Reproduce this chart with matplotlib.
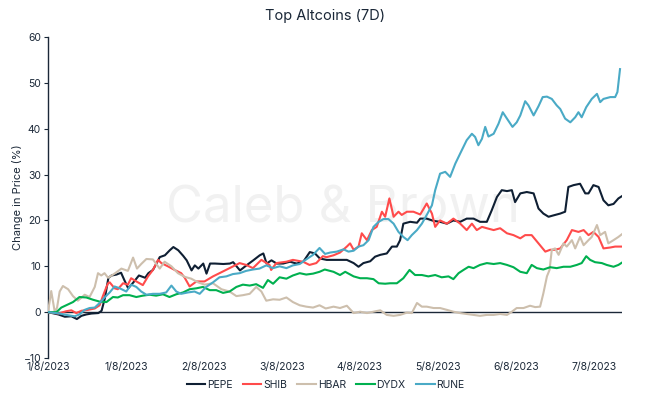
import matplotlib
matplotlib.use("Agg")
import matplotlib.pyplot as plt

# hours since start / % change
pepe_h = [0, 3.2, 5.2, 7.2, 8.9, 10.3, 11.8, 13.4, 15.5, 16.5, 17.5, 18.6, 19.6, 21.1, 22.5, 23.5,
          24.7, 26.3, 28.0, 29.9, 30.9, 32.3, 33.4, 34.4, 36.0, 37.5, 38.6, 40.1, 41.6, 42.7, 44.2,
          45.2, 46.3, 47.8, 48.8, 49.9, 51.4, 54.0, 56.0, 57.0, 59.1, 61.1, 63.2, 65.2, 66.3, 67.3,
          68.8, 70.4, 72.4, 74.5, 76.5, 78.6, 80.6, 82.2, 83.7, 85.8, 87.9, 89.9, 92.0, 94.1, 95.6,
          97.1, 99.2, 100.7, 102.3, 104.3, 105.9, 107.4, 108.4, 109.4, 111.5, 113.6, 114.6, 116.6,
          118.7, 120.7, 122.8, 124.8, 126.9, 128.9, 131.0, 133.0, 135.1, 136.6, 138.2, 139.7, 141.3,
          142.8, 143.8, 145.4, 147.4, 149.5, 151.0, 152.5, 154.1, 155.6, 157.7, 159.2, 160.2, 161.8,
          163.8, 165.4, 166.4, 167.9, 169.5, 171.0, 172.5, 174.1, 175.6, 176.7]
pepe_v = [0, -0.5, -1.0, -0.9, -1.5, -0.8, -0.5, -0.3, -0.2, 0.3, 3.0, 7.5, 8.0, 8.2, 8.6, 7.0,
          5.2, 6.5, 8.0, 7.5, 8.5, 9.2, 10.6, 12.0, 12.4, 13.5, 14.2, 13.5, 12.3, 11.3, 9.1,
          10.2, 9.5, 10.6, 8.4, 10.6, 10.6, 10.5, 10.6, 10.9, 9.1, 10.2, 11.3, 12.4, 12.8, 10.6,
          11.3, 10.6, 10.6, 11.0, 10.6, 11.0, 13.1, 12.8, 11.7, 11.4, 11.4, 11.4, 11.4, 10.7, 9.9,
          10.7, 11.1, 12.1, 12.5, 12.8, 14.3, 14.3, 15.7, 19.3, 19.7, 19.5, 20.4, 20.4,
          19.9, 19.7, 19.3, 20.0, 19.7, 20.4, 20.4, 19.7, 19.7, 22.2, 25.1, 26.6, 26.4,
          26.6, 24.0, 25.9, 26.2, 25.9, 22.6, 21.5, 20.8, 21.1, 21.5, 21.9, 27.3, 27.7,
          28.0, 25.9, 25.9, 27.7, 27.3, 24.4, 23.3, 23.6, 24.8, 25.3]

shib_h = [0, 3.2, 5.6, 7.2, 8.7, 10.3, 12.3, 14.4, 15.9, 16.9, 18.0, 18.5, 19.0, 20.5, 21.5, 23.1,
          24.6, 25.6, 27.2, 29.2, 30.8, 32.3, 33.9, 34.9, 36.9, 39.0, 41.0, 42.1, 43.6, 45.7, 48.2,
          50.8, 52.8, 55.9, 59.0, 61.0, 63.1, 65.7, 68.2, 68.7, 70.3, 73.4, 75.4, 78.5, 80.5, 82.6,
          84.6, 85.8, 87.9, 89.9, 92.0, 93.0, 94.1, 95.6, 96.6, 98.2, 99.7, 101.2, 102.8, 103.8,
          105.1, 106.4, 107.9, 108.9, 110.5, 112.5, 114.6, 116.6, 118.2, 119.2, 120.7, 122.8, 124.8,
          126.9, 128.9, 130.5, 132.0, 133.6, 135.1, 137.2, 139.2, 141.3, 143.3, 145.4, 146.9, 148.9,
          151.0, 153.1, 154.6, 156.1, 157.7, 159.7, 161.3, 163.3, 164.9, 166.4, 167.9, 169.5, 171.0,
          173.1, 174.6, 176.7]
shib_v = [0, -0.3, 0.2, 0.4, -0.2, 0.3, 0.5, 0.8, 1.5, 3.5, 5.5, 6.3, 6.5, 5.2, 5.0, 6.3,
          6.0, 7.4, 6.7, 5.9, 7.8, 9.2, 11.4, 10.7, 10.0, 9.2, 8.5, 7.5, 5.6, 6.7, 6.7,
          7.8, 8.5, 9.6, 10.7, 10.3, 9.6, 11.4, 10.3, 9.2, 10.7, 11.0, 11.4, 11.0, 10.3, 10.7,
          12.2, 12.0, 12.4, 13.0, 14.3, 15.0, 13.6, 14.3, 17.2, 15.7, 17.9, 18.6, 21.9, 20.8,
          24.8, 20.8, 21.9, 21.2, 21.9, 21.9, 21.3, 23.7, 21.5, 18.6, 20.0, 19.3, 20.4,
          19.3, 17.9, 19.3, 17.9, 18.6, 18.3, 17.9, 18.3, 17.2, 16.8, 16.1, 16.8, 16.8,
          15.0, 13.2, 13.6, 13.6, 13.9, 15.7, 17.9, 17.5, 17.9, 16.8, 17.5, 16.4, 13.9,
          14.1, 14.3, 14.3]

hbar_h = [0, 1.0, 2.1, 2.8, 3.6, 4.6, 6.2, 7.7, 9.2, 11.3, 12.8, 14.4, 15.4, 16.4, 17.4, 18.5,
          20.5, 22.6, 24.6, 26.2, 27.4, 28.7, 30.3, 32.3, 34.4, 35.9, 38.0, 40.0, 42.1, 44.1, 46.2,
          48.2, 50.8, 53.4, 55.9, 58.0, 60.0, 62.1, 64.1, 65.7, 67.2, 69.3, 71.3, 73.4, 75.4, 77.5,
          79.5, 81.6, 83.6, 85.5, 87.9, 89.9, 92.0, 94.1, 96.1, 98.2, 100.2, 102.3, 104.3, 106.4,
          108.4, 110.5, 112.0, 113.6, 115.1, 116.6, 118.7, 120.7, 122.8, 124.8, 126.9, 128.9, 131.0,
          133.0, 135.1, 137.2, 139.2, 141.3, 142.8, 144.3, 146.4, 148.4, 150.0, 151.5, 152.5, 153.6,
          154.4, 155.1, 156.1, 157.2, 158.7, 159.7, 161.3, 162.3, 163.8, 164.9, 166.4, 167.4, 169.0,
          170.0, 171.5, 172.5, 174.1, 175.6, 176.7]
hbar_v = [0, 4.6, 0.0, 1.0, 4.5, 5.7, 5.0, 3.5, 2.5, 3.8, 3.3, 5.5, 8.5, 8.0, 8.5, 7.5,
          8.4, 9.5, 9.0, 11.9, 9.5, 10.5, 11.6, 11.5, 9.5, 11.0, 10.0, 8.5, 7.7, 7.3, 6.5,
          6.0, 6.3, 5.0, 4.5, 3.5, 3.7, 4.0, 5.5, 4.5, 2.5, 2.8, 2.7, 3.2, 2.2, 1.5,
          1.2, 1.0, 1.5, 0.8, 1.2, 0.9, 1.4, -0.2, 0.1, -0.2, 0.1, 0.4, -0.6, -0.8,
          -0.6, -0.1, -0.2, 2.0, 1.2, 1.2, 0.9, 0.9, 0.5, 0.1, -0.2, -0.4, -0.6,
          -0.8, -0.6, -0.6, -0.4, -0.6, 0.1, 0.9, 0.9, 1.4, 1.1, 1.2, 4.1, 7.8,
          9.2, 13.6, 13.9, 12.5, 15.0, 14.3, 15.7, 13.9, 16.4, 14.6, 15.7, 16.4, 19.0,
          16.8, 17.5, 15.0, 15.7, 16.4, 17.0]

dydx_h = [0, 2.6, 4.1, 5.6, 7.7, 9.7, 11.8, 13.9, 15.9, 18.0, 20.0, 21.5, 23.1, 25.1, 27.2, 29.2,
          31.3, 33.3, 35.4, 37.4, 39.5, 41.6, 43.6, 45.7, 47.7, 49.8, 51.8, 53.9, 55.9, 58.0, 60.0,
          62.1, 64.1, 66.2, 67.7, 69.3, 71.3, 73.4, 75.4, 77.5, 79.5, 81.6, 83.6, 85.2, 87.9, 89.9,
          91.5, 94.1, 96.1, 98.2, 100.2, 101.8, 103.8, 105.3, 107.4, 109.4, 111.3, 113.0, 115.1,
          117.1, 119.2, 121.2, 123.3, 124.8, 126.4, 127.9, 129.5, 131.0, 133.0, 135.1, 137.2, 139.2,
          141.3, 143.3, 145.4, 147.4, 148.9, 150.5, 152.5, 154.6, 156.6, 158.7, 160.8, 162.8, 164.3,
          165.7, 166.9, 168.4, 170.5, 172.0, 174.1, 175.6, 176.7]
dydx_v = [0, 0.0, 1.0, 1.5, 2.2, 3.3, 3.2, 2.7, 2.3, 2.2, 3.3, 3.2, 3.7, 3.7, 3.3, 3.6,
          3.8, 3.6, 3.9, 3.3, 3.9, 4.3, 5.0, 5.2, 5.5, 4.8, 4.8, 4.2, 4.5, 5.5, 6.0,
          5.8, 6.1, 5.3, 7.0, 6.2, 7.6, 7.3, 8.0, 8.5, 8.2, 8.4, 8.8, 9.3, 8.8, 8.1,
          8.8, 7.8, 7.4, 7.4, 7.2, 6.3, 6.2, 6.3, 6.3, 7.4, 9.2, 8.1, 8.1,
          7.8, 8.1, 7.6, 7.8, 7.2, 8.5, 9.2, 9.9, 9.6, 10.3, 10.7, 10.5, 10.7,
          10.3, 9.8, 8.8, 8.5, 10.3, 9.6, 9.3, 9.8, 9.6, 9.9, 9.9, 10.3, 10.7,
          12.2, 11.4, 10.9, 10.7, 10.3, 9.9, 10.3, 10.8]

rune_h = [0, 3.6, 5.6, 8.2, 9.7, 11.3, 12.8, 14.4, 15.9, 17.4, 19.0, 20.5, 22.1, 24.1, 25.6, 27.2,
          28.7, 30.3, 32.3, 34.4, 36.4, 38.0, 39.5, 41.0, 43.1, 45.1, 46.7, 48.7, 50.8, 52.8, 54.9,
          56.9, 59.0, 61.0, 63.1, 65.1, 67.2, 69.3, 71.3, 73.4, 75.4, 77.5, 79.5, 81.6, 83.6, 85.3,
          86.9, 88.9, 91.0, 92.5, 94.1, 95.6, 97.1, 98.7, 100.2, 101.8, 103.3, 104.8, 106.4, 107.9,
          109.4, 110.7, 112.0, 113.6, 115.1, 116.6, 118.2, 119.2, 120.7, 122.3, 123.8, 125.4, 126.9,
          128.9, 130.5, 131.5, 132.5, 133.6, 134.6, 135.6, 137.2, 138.7, 140.0, 141.3, 143.0, 144.3,
          145.4, 146.9, 147.9, 149.5, 151.0, 152.3, 153.6, 155.1, 156.6, 157.7, 159.2, 160.8, 162.3,
          163.3, 164.3, 165.7, 167.4, 169.0, 170.0, 171.0, 173.1, 174.6, 175.3, 176.1]
rune_v = [0, -0.3, -0.6, -0.9, -0.5, 0.5, 0.9, 1.0, 2.0, 3.2, 4.3, 5.6, 5.2, 4.5, 6.0, 5.5,
          4.5, 3.8, 4.0, 4.0, 4.3, 5.8, 4.5, 4.0, 4.3, 4.5, 4.0, 5.5, 6.5, 7.6, 7.8,
          8.3, 8.5, 9.0, 9.3, 9.5, 10.2, 9.6, 10.0, 9.6, 10.2, 10.5, 11.5, 12.5, 14.0, 12.7,
          13.0, 13.2, 13.7, 13.2, 13.4, 14.3, 14.6, 15.7, 18.6, 19.7, 20.3, 20.3, 19.3, 17.5,
          16.4, 15.7, 16.8, 17.9, 19.3, 21.2, 23.3, 26.6, 30.2, 30.6, 29.5, 32.4, 34.6,
          37.5, 38.9, 38.2, 36.4, 37.8, 40.4, 38.3, 38.9, 41.1, 43.6, 42.2, 40.4, 41.4,
          42.9, 46.0, 45.1, 42.9, 44.9, 46.9, 47.0, 46.5, 45.1, 44.3, 42.2, 41.4, 42.5,
          43.6, 42.5, 44.7, 46.5, 47.6, 45.8, 46.5, 46.9, 46.9, 48.0, 53.0]

names = ["PEPE", "SHIB", "HBAR", "DYDX", "RUNE"]
colors = ["#0f1f33", "#ff4b4b", "#cdbfad", "#00b04f", "#4aaac6"]
tick_hours = [0, 24, 48, 72, 96, 120, 144, 168]
tick_labels = ["1/8/2023", "1/8/2023", "2/8/2023", "3/8/2023", "4/8/2023",
               "5/8/2023", "6/8/2023", "7/8/2023"]

navy = "#1b2838"
plt.rcParams["font.family"] = ["Inter", "DejaVu Sans"]

fig = plt.figure(figsize=(6.51, 4.01), dpi=100)
ax = fig.add_axes([0.0737, 0.1072, 0.8817, 0.8005])

ax.text(0.513, 0.465, "Caleb & Brown", transform=ax.transAxes, ha="center", va="center",
        fontsize=36.5, color="#f1f1f1", zorder=0)

series = [(pepe_h, pepe_v), (shib_h, shib_v), (hbar_h, hbar_v), (dydx_h, dydx_v), (rune_h, rune_v)]
for (h, v), nm, c in zip(series, names, colors):
    ax.plot(h, v, color=c, lw=1.5, label=nm, zorder=3)

ax.axhline(0, color=navy, lw=1.0, zorder=2)

ax.set_xlim(0, 176.7)
ax.set_ylim(-10, 60)
ax.set_yticks(range(-10, 61, 10))
ax.set_xticks(tick_hours)
ax.set_xticklabels(tick_labels)
ax.tick_params(axis="x", length=0, pad=3, labelsize=7.5, labelcolor=navy)
ax.tick_params(axis="y", length=3, width=0.8, color=navy, pad=2, labelsize=7.5, labelcolor=navy)

for s in ["top", "right", "bottom"]:
    ax.spines[s].set_visible(False)
ax.spines["left"].set_color(navy)
ax.spines["left"].set_linewidth(1.0)

ax.set_ylabel("Change in Price (%)", fontsize=8, color=navy)
ax.yaxis.set_label_coords(-0.043, 0.5)
fig.text(0.5, 0.96, "Top Altcoins (7D)", ha="center", va="center", fontsize=10.5, color=navy)

fig.legend(loc="center", bbox_to_anchor=(0.5, 0.04), ncol=5, frameon=False, fontsize=7.5,
           handlelength=1.8, handletextpad=0.15, columnspacing=1.0, labelcolor=navy)

fig.savefig("out.png", dpi=100)
